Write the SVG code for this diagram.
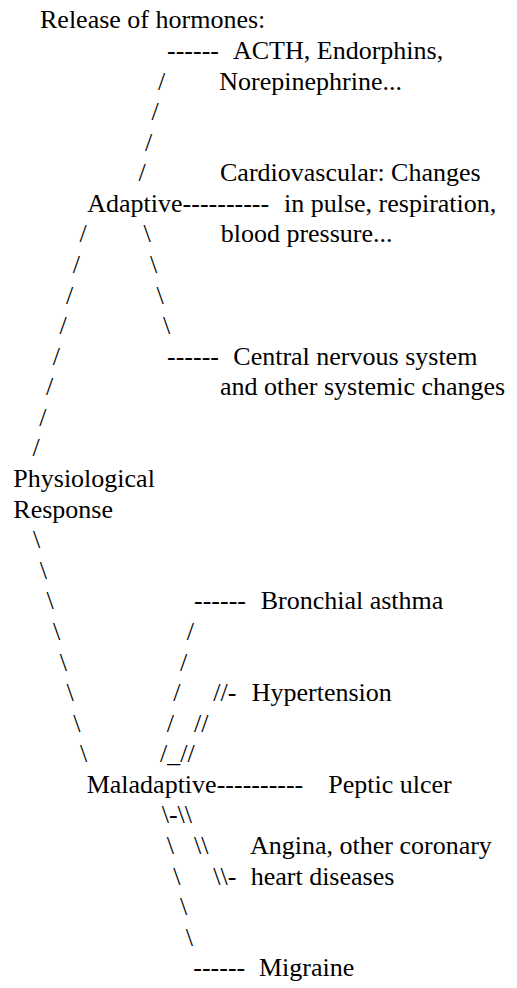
<svg xmlns="http://www.w3.org/2000/svg" width="517" height="988" viewBox="0 0 517 988">
<style>
.t text{font-family:'Liberation Serif','Times New Roman',serif;font-size:26px;fill:#000}
</style>
<rect width="517" height="988" fill="#fff"/>
<g class="t">
<g id="connectors">
<text x="167" y="58.9">------</text>
<text x="158" y="89.5">/</text>
<text x="151.5" y="120">/</text>
<text x="145" y="150.6">/</text>
<text x="138.5" y="181.2">/</text>
<text x="182.6" y="211.8">----------</text>
<text x="79.5" y="242.4">/</text>
<text x="143.5" y="242.4">\</text>
<text x="72.8" y="273">/</text>
<text x="150" y="273">\</text>
<text x="66.1" y="303.5">/</text>
<text x="156.5" y="303.5">\</text>
<text x="59.4" y="334.1">/</text>
<text x="163" y="334.1">\</text>
<text x="52.7" y="364.7">/</text>
<text x="167" y="364.7">------</text>
<text x="46" y="395.3">/</text>
<text x="39.3" y="425.9">/</text>
<text x="32.6" y="456.4">/</text>
<text x="33" y="548.2">\</text>
<text x="39.7" y="578.8">\</text>
<text x="46.4" y="609.3">\</text>
<text x="194" y="609.3">------</text>
<text x="53.1" y="639.9">\</text>
<text x="186.7" y="639.9">/</text>
<text x="59.8" y="670.5">\</text>
<text x="180" y="670.5">/</text>
<text x="66.5" y="701.1">\</text>
<text x="173.3" y="701.1">/</text>
<text x="213.3" y="701.1">//-</text>
<text x="73.2" y="731.7">\</text>
<text x="166.7" y="731.7">/</text>
<text x="194" y="731.7">//</text>
<text x="79.9" y="762.2">\</text>
<text x="160" y="762.2">/_//</text>
<text x="216.7" y="792.8">----------</text>
<text x="161.7" y="823.4">\-\\</text>
<text x="166.7" y="854">\</text>
<text x="194" y="854">\\</text>
<text x="173.3" y="884.6">\</text>
<text x="213.3" y="884.6">\\-</text>
<text x="180" y="915.1">\</text>
<text x="185.7" y="945.7">\</text>
<text x="193.3" y="976.3">------</text>
</g>
<g id="release"><text x="40" y="28.3">Release of hormones:</text></g>
<g id="hormones"><text x="233" y="58.9">ACTH, Endorphins,</text><text x="219.3" y="89.5">Norepinephrine...</text></g>
<g id="cardiovascular"><text x="220" y="181.2">Cardiovascular: Changes</text><text x="284" y="211.8">in pulse, respiration,</text><text x="220.7" y="242.4">blood pressure...</text></g>
<g id="adaptive"><text x="87.3" y="211.8">Adaptive</text></g>
<g id="cns"><text x="233.3" y="364.7">Central nervous system</text><text x="220" y="395.3">and other systemic changes</text></g>
<g id="physiological"><text x="13.3" y="487">Physiological</text><text x="13.3" y="517.6">Response</text></g>
<g id="asthma"><text x="260.7" y="609.3">Bronchial asthma</text></g>
<g id="hypertension"><text x="251.7" y="701.1">Hypertension</text></g>
<g id="maladaptive"><text x="86.7" y="792.8">Maladaptive</text></g>
<g id="peptic"><text x="328.3" y="792.8">Peptic ulcer</text></g>
<g id="angina"><text x="250" y="854">Angina, other coronary</text><text x="250.7" y="884.6">heart diseases</text></g>
<g id="migraine"><text x="259" y="976.3">Migraine</text></g>
</g>
</svg>
